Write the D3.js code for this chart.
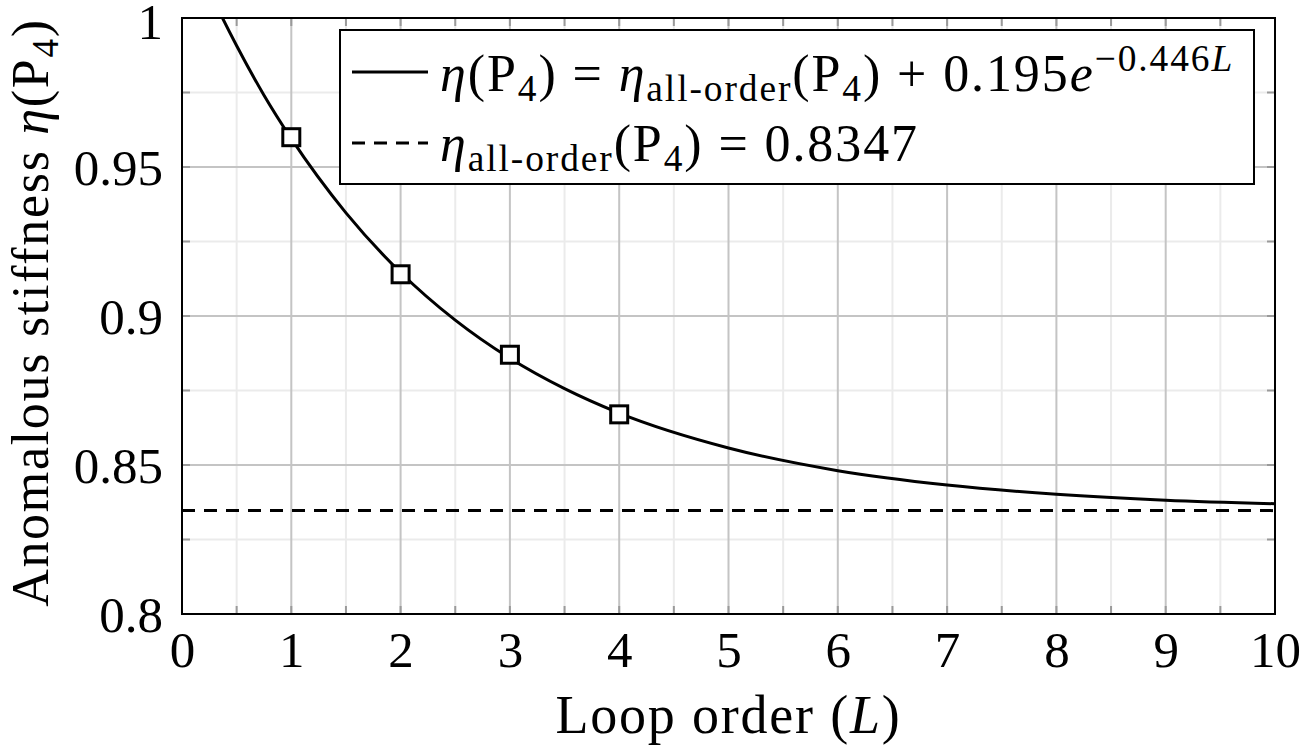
<!DOCTYPE html>
<html>
<head>
<meta charset="utf-8">
<script src="https://cdn.jsdelivr.net/npm/d3@7"></script>
<style>
  html, body { margin: 0; padding: 0; background: #fff; }
  text, tspan { font-family: 'Liberation Serif', 'DejaVu Serif', serif; }
</style>
</head>
<body>
<svg id="chart" width="1300" height="753"></svg>
<script>
// ---- data ----
const loopOrders = [1, 2, 3, 4];
const stiffnessValues = [0.960, 0.914, 0.887, 0.867];
// fitted curve
const curveL = [0, 0.25, 0.5, 0.75, 1, 1.5, 2, 2.5, 3, 3.5, 4, 5, 6, 7, 8, 9, 10];
const curveEta = [1.0297, 1.0091, 0.9907, 0.9741, 0.9595, 0.9346, 0.9146, 0.8986, 0.8858, 0.8756, 0.8674, 0.8557, 0.8481, 0.8433, 0.8402, 0.8382, 0.8370];
const allOrderValue = 0.8347;
const xTicks = [0, 1, 2, 3, 4, 5, 6, 7, 8, 9, 10];
const yTicks = [0.8, 0.85, 0.9, 0.95, 1];
const yTickLabels = ["0.8", "0.85", "0.9", "0.95", "1"];

// ---- layout ----
const svg = d3.select("#chart");
const m = { left: 182, top: 18, right: 25, bottom: 139 };
const W = 1300 - m.left - m.right, H = 753 - m.top - m.bottom;
const x = d3.scaleLinear().domain([0, 10]).range([m.left, m.left + W]);
const y = d3.scaleLinear().domain([0.8, 1]).range([m.top + H, m.top]);
const TICK_FS = 51;
const TITLE_FS = 54;
const LEG_FS = 52;

svg.append("defs").append("clipPath").attr("id", "clip")
  .append("rect").attr("x", m.left).attr("y", m.top).attr("width", W).attr("height", H);

// minor grid
const xMinor = d3.range(0.5, 10, 1);
const yMinor = [0.825, 0.875, 0.925, 0.975];
const g = svg.append("g");
g.selectAll(".xm").data(xMinor).join("line")
  .attr("x1", d => x(d)).attr("x2", d => x(d)).attr("y1", m.top).attr("y2", m.top + H)
  .attr("stroke", "#ebebeb").attr("stroke-width", 2);
g.selectAll(".ym").data(yMinor).join("line")
  .attr("y1", d => y(d)).attr("y2", d => y(d)).attr("x1", m.left).attr("x2", m.left + W)
  .attr("stroke", "#ebebeb").attr("stroke-width", 2);
// major grid
g.selectAll(".xg").data(xTicks).join("line")
  .attr("x1", d => x(d)).attr("x2", d => x(d)).attr("y1", m.top).attr("y2", m.top + H)
  .attr("stroke", "#c4c4c4").attr("stroke-width", 2);
g.selectAll(".yg").data(yTicks).join("line")
  .attr("y1", d => y(d)).attr("y2", d => y(d)).attr("x1", m.left).attr("x2", m.left + W)
  .attr("stroke", "#c4c4c4").attr("stroke-width", 2);

// small tick marks along the axes (pgfplots style)
const tickLen = 8;
const allX = xTicks.concat(xMinor);
const allY = yTicks.concat(yMinor);
g.selectAll(".xt").data(allX).join("line")
  .attr("x1", d => x(d)).attr("x2", d => x(d)).attr("y1", m.top + H).attr("y2", m.top + H - tickLen)
  .attr("stroke", "#9a9a9a").attr("stroke-width", 2);
g.selectAll(".xt2").data(allX).join("line")
  .attr("x1", d => x(d)).attr("x2", d => x(d)).attr("y1", m.top).attr("y2", m.top + tickLen)
  .attr("stroke", "#9a9a9a").attr("stroke-width", 2);
g.selectAll(".yt").data(allY).join("line")
  .attr("y1", d => y(d)).attr("y2", d => y(d)).attr("x1", m.left).attr("x2", m.left + tickLen)
  .attr("stroke", "#9a9a9a").attr("stroke-width", 2);
g.selectAll(".yt2").data(allY).join("line")
  .attr("y1", d => y(d)).attr("y2", d => y(d)).attr("x1", m.left + W).attr("x2", m.left + W - tickLen)
  .attr("stroke", "#9a9a9a").attr("stroke-width", 2);

// dashed asymptote
svg.append("line")
  .attr("x1", x(0)).attr("x2", x(10)).attr("y1", y(allOrderValue)).attr("y2", y(allOrderValue))
  .attr("stroke", "#000").attr("stroke-width", 3).attr("stroke-dasharray", "13,9");

// fitted curve
const pts = curveL.map((l, i) => [l, curveEta[i]]);
svg.append("path").datum(pts)
  .attr("clip-path", "url(#clip)")
  .attr("d", d3.line().x(d => x(d[0])).y(d => y(d[1])).curve(d3.curveMonotoneX))
  .attr("fill", "none").attr("stroke", "#000").attr("stroke-width", 3);

// markers
const ms = 17;
svg.selectAll(".mk").data(loopOrders).join("rect")
  .attr("x", (d) => x(d) - ms / 2).attr("y", (d, i) => y(stiffnessValues[i]) - ms / 2)
  .attr("width", ms).attr("height", ms)
  .attr("fill", "#fff").attr("stroke", "#000").attr("stroke-width", 3);

// frame
svg.append("rect").attr("x", m.left).attr("y", m.top).attr("width", W).attr("height", H)
  .attr("fill", "none").attr("stroke", "#000").attr("stroke-width", 2);

// axes (labels only, via d3 axis)
const xAxis = svg.append("g").attr("transform", `translate(0,${m.top + H})`)
  .call(d3.axisBottom(x).tickValues(xTicks).tickFormat(d3.format("d")).tickSize(0));
xAxis.attr("font-family", null).attr("font-size", TICK_FS);
xAxis.select(".domain").remove();
xAxis.selectAll("text").attr("fill", "#000").attr("y", 53).attr("dy", 0);

const yAxis = svg.append("g").attr("transform", `translate(${m.left},0)`)
  .call(d3.axisLeft(y).tickValues(yTicks).tickFormat((d, i) => yTickLabels[i]).tickSize(0).tickPadding(19));
yAxis.attr("font-family", null).attr("font-size", TICK_FS);
yAxis.select(".domain").remove();
yAxis.selectAll("text").attr("fill", "#000")
  .attr("dy", d => d === 1 ? "0.4em" : "0.34em");

// helper for rich text
function rich(sel, parts) {
  parts.forEach(p => {
    const ts = sel.append("tspan").text(p.t);
    if (p.it) ts.attr("font-style", "italic");
    if (p.fs) ts.attr("font-size", p.fs);
    if (p.dy) ts.attr("dy", p.dy);
  });
}

// axis titles
const xt = svg.append("text").attr("x", x(5)).attr("y", 733).attr("text-anchor", "middle")
  .attr("font-size", TITLE_FS).attr("letter-spacing", 1.8);
rich(xt, [{ t: "Loop order (" }, { t: "L", it: 1 }, { t: ")" }]);

const YFS = 52;
const tsub = YFS * 0.72;
const yt = svg.append("text")
  .attr("transform", `translate(48,${(20 + 605) / 2}) rotate(-90)`)
  .attr("text-anchor", "middle").attr("font-size", YFS).attr("letter-spacing", 1.7);
rich(yt, [{ t: "Anomalous stiffness " }, { t: "η", it: 1 }, { t: "(P" }, { t: "4", fs: tsub, dy: 10 }, { t: ")", dy: -10 }]);

// legend
const lg = svg.append("g");
lg.append("rect").attr("x", 340).attr("y", 30).attr("width", 914).attr("height", 154)
  .attr("fill", "#fff").attr("stroke", "#000").attr("stroke-width", 2);
lg.append("line").attr("x1", 352).attr("x2", 428).attr("y1", 72).attr("y2", 72)
  .attr("stroke", "#000").attr("stroke-width", 3);
lg.append("line").attr("x1", 352).attr("x2", 428).attr("y1", 143).attr("y2", 143)
  .attr("stroke", "#000").attr("stroke-width", 3).attr("stroke-dasharray", "13,9");

const sub = LEG_FS * 0.72;
const t1 = lg.append("text").attr("x", 440).attr("y", 91).attr("font-size", LEG_FS).attr("letter-spacing", 1.9);
rich(t1, [
  { t: "η", it: 1 }, { t: "(P" }, { t: "4", fs: sub, dy: 10 }, { t: ") = ", dy: -10 },
  { t: "η", it: 1 }, { t: "all-order", fs: sub, dy: 10 }, { t: "(P", dy: -10 }, { t: "4", fs: sub, dy: 10 },
  { t: ") + 0.195", dy: -10 }, { t: "e", it: 1 }, { t: "−0.446", fs: sub, dy: -20 }, { t: "L", fs: sub, it: 1 }
]);

const t2 = lg.append("text").attr("x", 440).attr("y", 161).attr("font-size", LEG_FS).attr("letter-spacing", 1.9);
rich(t2, [
  { t: "η", it: 1 }, { t: "all-order", fs: sub, dy: 10 }, { t: "(P", dy: -10 }, { t: "4", fs: sub, dy: 10 },
  { t: ") = " + allOrderValue, dy: -10 }
]);
</script>
</body>
</html>
